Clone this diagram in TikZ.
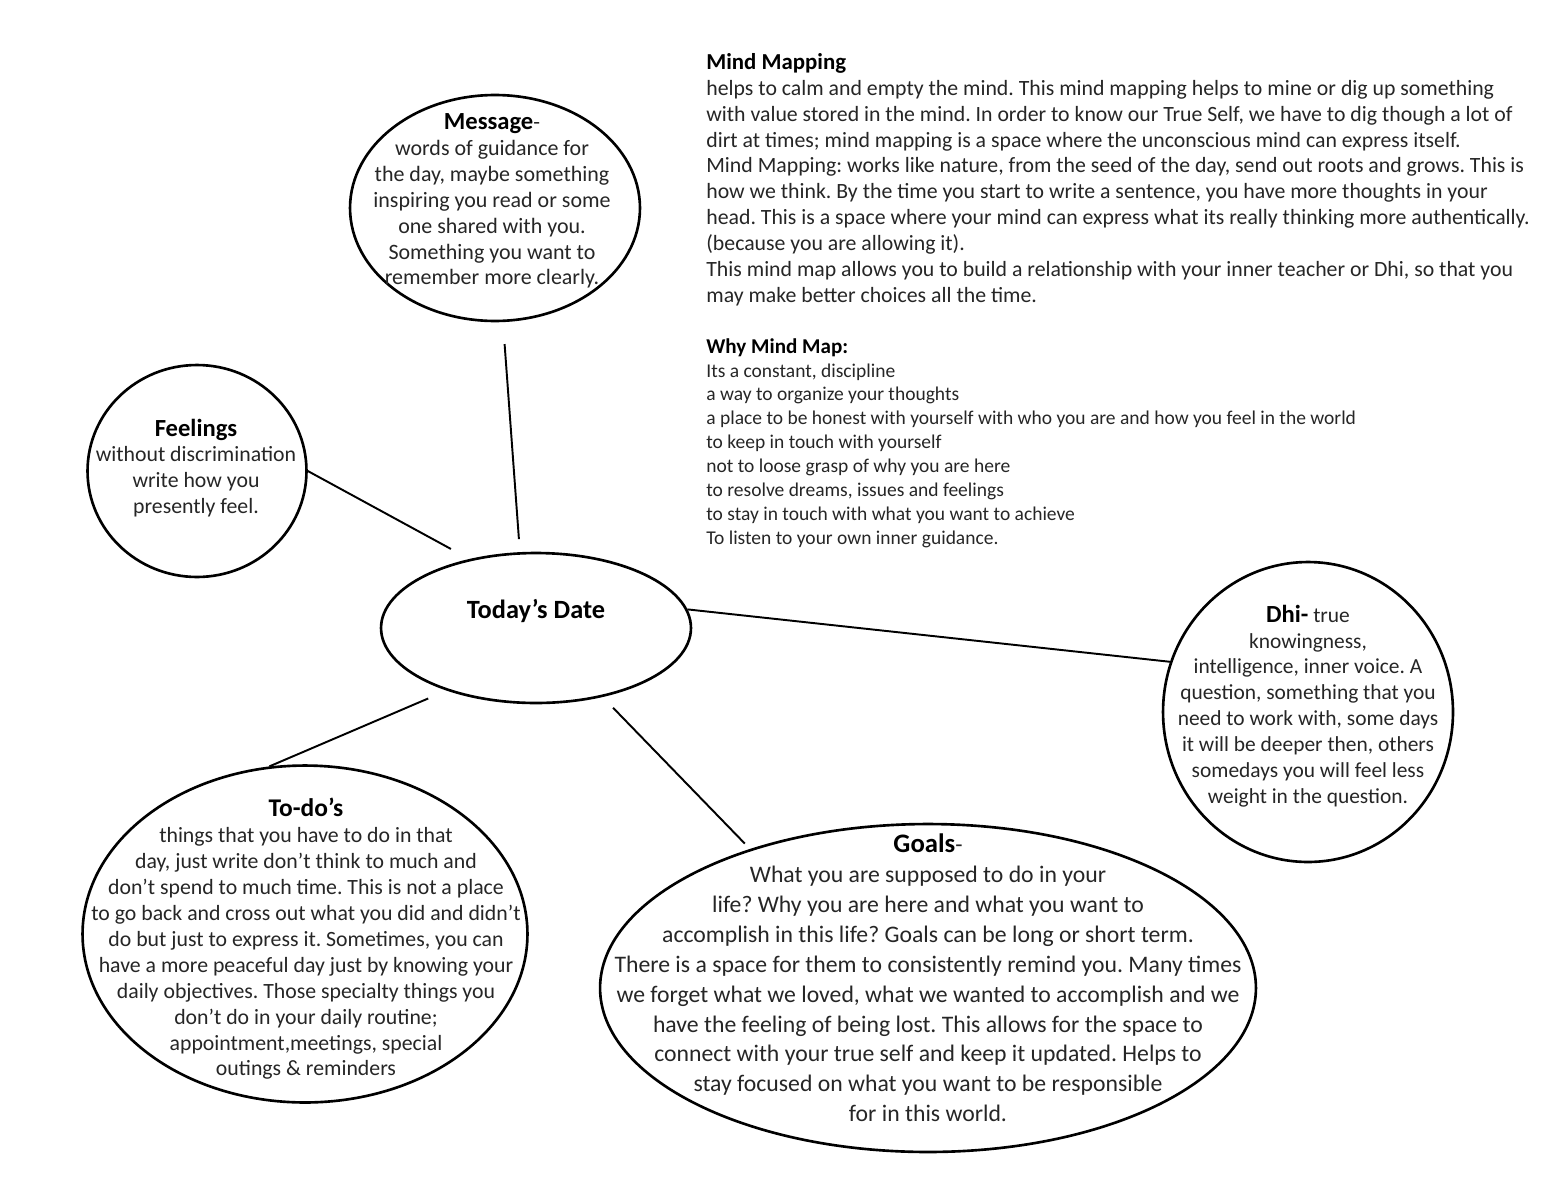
\documentclass[tikz,border=0pt]{standalone}
\usepackage{fontspec}
\setmainfont{Carlito}
\usetikzlibrary{shapes.geometric, positioning}
\frenchspacing

\tikzset{
  bubble/.style={ellipse, draw=black, line width=1.5pt, inner sep=0pt},
  link/.style={draw=black, line width=1.1pt},
  body/.style={align=center, inner sep=0pt, text=black!85,
    font=\fontsize{12.4}{14.74}\selectfont},
  note/.style={align=left, inner sep=0pt, text=black!85, anchor=north west}
}
\newcommand{\hd}[2][14]{{\fontsize{#1}{14.74}\selectfont\bfseries\color{black}#2}}

\begin{document}
\begin{tikzpicture}[x=0.02cm, y=-0.02cm]
\useasboundingbox[fill=white] (0,0) rectangle (1550,1186);
% bubbles
\node[bubble, minimum width=5.8cm, minimum height=4.52cm] (msg) at (495,208) {};
\node[bubble, minimum width=4.38cm, minimum height=4.24cm] (feel) at (197,471) {};
\node[bubble, minimum width=6.2cm, minimum height=3.0cm] (today) at (536,628) {};
\node[bubble, minimum width=5.8cm, minimum height=6.0cm] (dhi) at (1308,712) {};
\node[bubble, minimum width=8.9cm, minimum height=6.74cm] (todo) at (305,934) {};
\node[bubble, minimum width=13.12cm, minimum height=6.56cm] (goals) at (928,988) {};
% links
\draw[link, shorten <=0.44cm, shorten >=0.26cm] (msg.-86) -- (today.102);
\draw[link, shorten >=0.42cm] (feel.east) -- (today.134);
\draw[link] (today.7) -- (dhi.160);
\draw[link, shorten <=0.4cm] (today.215) -- (todo.102);
\draw[link, shorten <=0.3cm, shorten >=0.15cm] (today.314) -- (goals.142);
% bubble texts
\node[font=\bfseries\fontsize{15}{17}\selectfont, inner sep=0pt] (today-t) at (536,611) {Today’s Date};
\node[body, font=\fontsize{12.5}{14.74}\selectfont] (msg-t) at (492,201) {\hd{Message}-\\words of guidance for\\
  the day, maybe something\\inspiring you read or some\\one shared with you.\\Something you want to\\
  remember more clearly.};
\node[body] (feel-t) at (196,468) {\hd{Feelings}\\without discrimination\\write how you\\presently feel.};
\node[body, font=\fontsize{12.2}{14.74}\selectfont] (dhi-t) at (1308,706) {\hd{Dhi-} true\\knowingness,\\
  intelligence, inner voice. A\\question, something that you\\need to work with, some days\\
  it will be deeper then, others\\somedays you will feel less\\weight in the question.};
\node[body] (todo-t) at (306,939) {\hd[14.5]{To-do’s}\\things that you have to do in that\\
  day, just write don’t think to much and\\don’t spend to much time. This is not a place\\
  to go back and cross out what you did and didn’t\\do but just to express it. Sometimes, you can\\
  have a more peaceful day just by knowing your\\daily objectives. Those specialty things you\\
  don’t do in your daily routine;\\appointment,meetings, special\\outings \& reminders};
\node[body, font=\fontsize{13.5}{17}\selectfont] (goals-t) at (928,978) {\hd[15.2]{Goals}-\\
  What you are supposed to do in your\\life? Why you are here and what you want to\\
  accomplish in this life? Goals can be long or short term.\\
  There is a space for them to consistently remind you. Many times\\
  we forget what we loved, what we wanted to accomplish and we\\
  have the feeling of being lost. This allows for the space to\\
  connect with your true self and keep it updated. Helps to\\
  stay focused on what you want to be responsible\\for in this world.};
% notes
\node[note, font=\fontsize{12.4}{14.74}\selectfont] (mm-t) at (706,53) {\hd[13]{Mind Mapping}\\
  helps to calm and empty the mind. This mind mapping helps to mine or dig up something\\
  with value stored in the mind. In order to know our True Self, we have to dig though a lot of\\
  dirt at times; mind mapping is a space where the unconscious mind can express itself.\\
  Mind Mapping: works like nature, from the seed of the day, send out roots and grows. This is\\
  how we think. By the time you start to write a sentence, you have more thoughts in your\\
  head. This is a space where your mind can express what its really thinking more authentically.\\
  (because you are allowing it).\\
  This mind map allows you to build a relationship with your inner teacher or Dhi, so that you\\
  may make better choices all the time.};
\node[note, font=\fontsize{11.1}{13.6}\selectfont] (why-t) at (706,338) {\hd[12]{Why Mind Map:}\\
  Its a constant, discipline\\a way to organize your thoughts\\
  a place to be honest with yourself with who you are and how you feel in the world\\
  to keep in touch with yourself\\not to loose grasp of why you are here\\
  to resolve dreams, issues and feelings\\to stay in touch with what you want to achieve\\
  To listen to your own inner guidance.};
\end{tikzpicture}
\end{document}
